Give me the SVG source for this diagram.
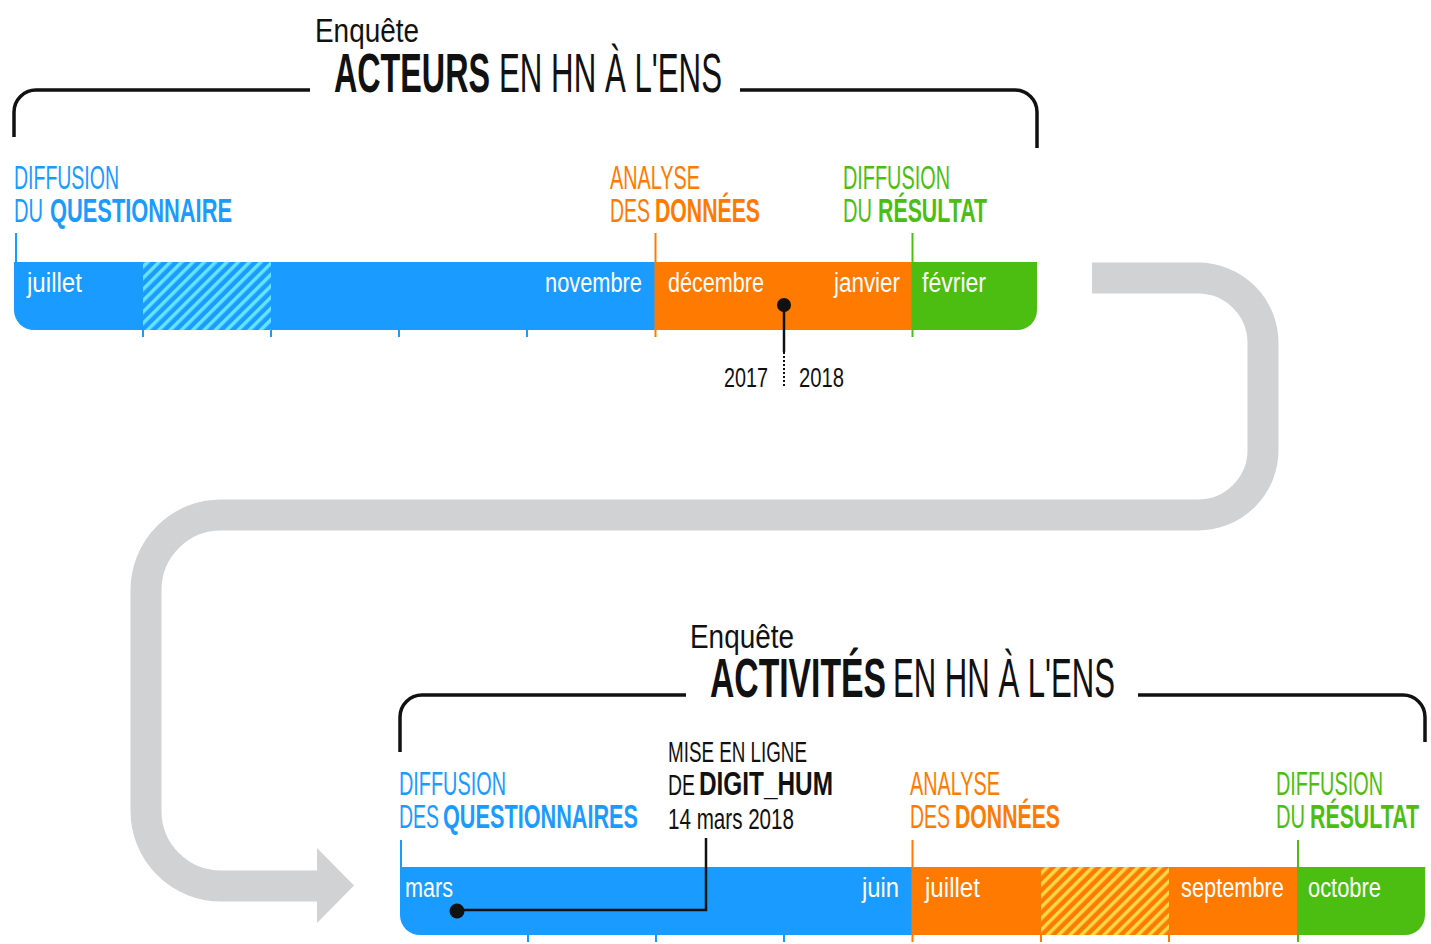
<svg xmlns="http://www.w3.org/2000/svg" width="1431" height="944" viewBox="0 0 1431 944">
<style>
text{font-family:"Liberation Sans Narrow","Liberation Sans",Arial,sans-serif;}
.lab{font-size:33px;}
.b{font-weight:bold;}
.blue{fill:#1a9bff;}
.orange{fill:#ff7a00;}
.green{fill:#4cbe12;}
.mon{font-size:27px;fill:#ffffff;}
.blk{fill:#111111;}
.ttl{font-size:56px;fill:#111111;}
.enq{font-size:33px;fill:#111111;}
.brk{fill:none;stroke:#111111;stroke-width:3.5;}
.tk{stroke-width:2;}
</style>
<defs>
<pattern id="hb" width="8" height="8" patternUnits="userSpaceOnUse" patternTransform="rotate(45)">
<rect width="8" height="8" fill="#1a9bff"/>
<rect width="3.5" height="8" fill="#66e4ff"/>
</pattern>
<pattern id="ho" width="8" height="8" patternUnits="userSpaceOnUse" patternTransform="rotate(45)">
<rect width="8" height="8" fill="#ff7a00"/>
<rect width="3.5" height="8" fill="#ffd84a"/>
</pattern>
<clipPath id="c1"><path d="M14,262 H1037 V310 A20,20 0 0 1 1017,330 H34 A20,20 0 0 1 14,310 Z"/></clipPath>
<clipPath id="c2"><path d="M400,867 H1425 V915 A20,20 0 0 1 1405,935 H420 A20,20 0 0 1 400,915 Z"/></clipPath>
</defs>
<rect width="1431" height="944" fill="#ffffff"/>

<g id="connectors">
<path d="M1092,278 H1198 A65,65 0 0 1 1263,343 V450 A65,65 0 0 1 1198,515 H221 A75,75 0 0 0 146,590 V811 A75,75 0 0 0 221,886 H320" fill="none" stroke="#d1d2d4" stroke-width="31"/>
<polygon points="317,848 354,885.5 317,923" fill="#d1d2d4"/>
</g>

<g id="survey1">
<text class="enq" x="315" y="42" textLength="104" lengthAdjust="spacingAndGlyphs">Enquête</text>
<text class="ttl b" x="334" y="92" textLength="156" lengthAdjust="spacingAndGlyphs">ACTEURS</text>
<text class="ttl" x="499" y="92" textLength="223" lengthAdjust="spacingAndGlyphs">EN HN À L'ENS</text>
<path class="brk" d="M310,90 H36 A22,22 0 0 0 14,112 V137"/>
<path class="brk" d="M740,90 H1015 A22,22 0 0 1 1037,112 V148"/>
</g>

<g id="timeline1">
<g clip-path="url(#c1)">
<rect x="14" y="262" width="641" height="68" fill="#1a9bff"/>
<rect x="143" y="262" width="128" height="68" fill="url(#hb)"/>
<rect x="655" y="262" width="257" height="68" fill="#ff7a00"/>
<rect x="912" y="262" width="125" height="68" fill="#4cbe12"/>
</g>
<g class="tk">
<line x1="16" y1="233" x2="16" y2="262" stroke="#1a9bff" stroke-width="2"/>
<line x1="143" y1="330" x2="143" y2="337" stroke="#1a9bff" stroke-width="2"/>
<line x1="271" y1="330" x2="271" y2="337" stroke="#1a9bff" stroke-width="2"/>
<line x1="399" y1="330" x2="399" y2="337" stroke="#1a9bff" stroke-width="2"/>
<line x1="527" y1="330" x2="527" y2="337" stroke="#1a9bff" stroke-width="2"/>
<line x1="655.5" y1="233" x2="655.5" y2="337" stroke="#ff7a00" stroke-width="2"/>
<line x1="912.5" y1="233" x2="912.5" y2="337" stroke="#4cbe12" stroke-width="2"/>
</g>
<text class="mon" x="27" y="292" textLength="55" lengthAdjust="spacingAndGlyphs">juillet</text>
<text class="mon" x="545" y="292" textLength="97" lengthAdjust="spacingAndGlyphs">novembre</text>
<text class="mon" x="668" y="292" textLength="96" lengthAdjust="spacingAndGlyphs">décembre</text>
<text class="mon" x="834" y="292" textLength="66" lengthAdjust="spacingAndGlyphs">janvier</text>
<text class="mon" x="922" y="292" textLength="64" lengthAdjust="spacingAndGlyphs">février</text>
</g>

<g id="label-diffusion1">
<text class="lab blue" x="14" y="189" textLength="105" lengthAdjust="spacingAndGlyphs">DIFFUSION</text>
<text class="lab blue" x="14" y="222" textLength="29" lengthAdjust="spacingAndGlyphs">DU</text>
<text class="lab blue b" x="50" y="222" textLength="182" lengthAdjust="spacingAndGlyphs">QUESTIONNAIRE</text>
</g>
<g id="label-analyse1">
<text class="lab orange" x="610" y="189" textLength="90" lengthAdjust="spacingAndGlyphs">ANALYSE</text>
<text class="lab orange" x="610" y="222" textLength="40" lengthAdjust="spacingAndGlyphs">DES</text>
<text class="lab orange b" x="655" y="222" textLength="105" lengthAdjust="spacingAndGlyphs">DONNÉES</text>
</g>
<g id="label-resultat1">
<text class="lab green" x="843" y="189" textLength="107" lengthAdjust="spacingAndGlyphs">DIFFUSION</text>
<text class="lab green" x="843" y="222" textLength="29" lengthAdjust="spacingAndGlyphs">DU</text>
<text class="lab green b" x="878" y="222" textLength="109" lengthAdjust="spacingAndGlyphs">RÉSULTAT</text>
</g>

<g id="year-marker">
<line x1="784" y1="305" x2="784" y2="352" stroke="#111111" stroke-width="2.5"/>
<line x1="784" y1="352" x2="784" y2="388" stroke="#111111" stroke-width="2" stroke-dasharray="2,2"/>
<circle cx="784" cy="305" r="7" fill="#111111"/>
<text class="blk" x="724" y="387" font-size="28" textLength="44" lengthAdjust="spacingAndGlyphs">2017</text>
<text class="blk" x="799" y="387" font-size="28" textLength="45" lengthAdjust="spacingAndGlyphs">2018</text>
</g>

<g id="survey2">
<text class="enq" x="690" y="648" textLength="104" lengthAdjust="spacingAndGlyphs">Enquête</text>
<text class="ttl b" x="710" y="697" textLength="176" lengthAdjust="spacingAndGlyphs">ACTIVITÉS</text>
<text class="ttl" x="893" y="697" textLength="222" lengthAdjust="spacingAndGlyphs">EN HN À L'ENS</text>
<path class="brk" d="M686,695 H422 A22,22 0 0 0 400,717 V752"/>
<path class="brk" d="M1138,695 H1403 A22,22 0 0 1 1425,717 V742"/>
</g>

<g id="timeline2">
<g clip-path="url(#c2)">
<rect x="400" y="867" width="512" height="68" fill="#1a9bff"/>
<rect x="912" y="867" width="385" height="68" fill="#ff7a00"/>
<rect x="1041" y="867" width="128" height="68" fill="url(#ho)"/>
<rect x="1297" y="867" width="128" height="68" fill="#4cbe12"/>
</g>
<line x1="401" y1="840" x2="401" y2="867" stroke="#1a9bff" stroke-width="2"/>
<line x1="528" y1="935" x2="528" y2="942" stroke="#1a9bff" stroke-width="2"/>
<line x1="656" y1="935" x2="656" y2="942" stroke="#1a9bff" stroke-width="2"/>
<line x1="784" y1="935" x2="784" y2="942" stroke="#1a9bff" stroke-width="2"/>
<line x1="912.5" y1="840" x2="912.5" y2="942" stroke="#ff7a00" stroke-width="2"/>
<line x1="1041" y1="935" x2="1041" y2="942" stroke="#ff7a00" stroke-width="2"/>
<line x1="1169" y1="935" x2="1169" y2="942" stroke="#ff7a00" stroke-width="2"/>
<line x1="1298" y1="840" x2="1298" y2="942" stroke="#4cbe12" stroke-width="2"/>
<text class="mon" x="405" y="897" textLength="48" lengthAdjust="spacingAndGlyphs">mars</text>
<text class="mon" x="862" y="897" textLength="37" lengthAdjust="spacingAndGlyphs">juin</text>
<text class="mon" x="925" y="897" textLength="55" lengthAdjust="spacingAndGlyphs">juillet</text>
<text class="mon" x="1181" y="897" textLength="103" lengthAdjust="spacingAndGlyphs">septembre</text>
<text class="mon" x="1308" y="897" textLength="73" lengthAdjust="spacingAndGlyphs">octobre</text>
</g>

<g id="label-diffusion2">
<text class="lab blue" x="399" y="795" textLength="107" lengthAdjust="spacingAndGlyphs">DIFFUSION</text>
<text class="lab blue" x="399" y="828" textLength="40" lengthAdjust="spacingAndGlyphs">DES</text>
<text class="lab blue b" x="443" y="828" textLength="195" lengthAdjust="spacingAndGlyphs">QUESTIONNAIRES</text>
</g>
<g id="label-digit-hum">
<text class="blk" x="668" y="762" font-size="29" textLength="139" lengthAdjust="spacingAndGlyphs">MISE EN LIGNE</text>
<text class="blk" x="668" y="795" font-size="29" textLength="27" lengthAdjust="spacingAndGlyphs">DE</text>
<text class="blk b" x="699" y="795" font-size="33" textLength="134" lengthAdjust="spacingAndGlyphs">DIGIT_HUM</text>
<text class="blk" x="668" y="829" font-size="30" textLength="126" lengthAdjust="spacingAndGlyphs">14 mars 2018</text>
<path d="M706,838 V910 H457" fill="none" stroke="#111111" stroke-width="2.5"/>
<circle cx="457" cy="911" r="7.5" fill="#111111"/>
</g>
<g id="label-analyse2">
<text class="lab orange" x="910" y="795" textLength="90" lengthAdjust="spacingAndGlyphs">ANALYSE</text>
<text class="lab orange" x="910" y="828" textLength="40" lengthAdjust="spacingAndGlyphs">DES</text>
<text class="lab orange b" x="955" y="828" textLength="105" lengthAdjust="spacingAndGlyphs">DONNÉES</text>
</g>
<g id="label-resultat2">
<text class="lab green" x="1276" y="795" textLength="107" lengthAdjust="spacingAndGlyphs">DIFFUSION</text>
<text class="lab green" x="1276" y="828" textLength="29" lengthAdjust="spacingAndGlyphs">DU</text>
<text class="lab green b" x="1310" y="828" textLength="109" lengthAdjust="spacingAndGlyphs">RÉSULTAT</text>
</g>
</svg>
